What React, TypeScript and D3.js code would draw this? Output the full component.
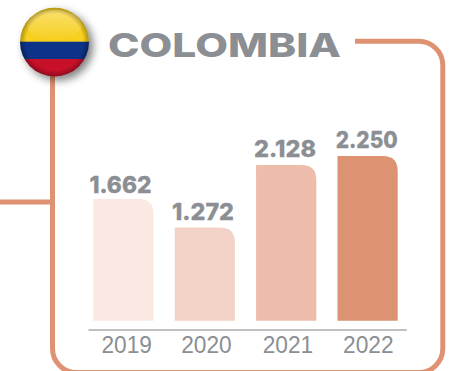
import React from "react";
import * as d3 from "d3";

const years = ["2019", "2020", "2021", "2022"];
const sales = [1662, 1272, 2128, 2250];
const salesLabels = ["1.662", "1.272", "2.128", "2.250"];
const barFills = ["#f9e9e2", "#f3d3c7", "#edbcaa", "#dd9271"];
const labelLeft = [89.5, 172, 254, 335.7];
const labelDy = [-6.4, -7.7, -8.3, -8];
const yearCenter = [126.7, 206.5, 288, 368.3];

const W = 450;
const H = 371;
const baseY = 320.7;
const frameColor = "#df9272";
const gray = "#8b8e92";

const x = d3.scaleBand<string>().domain(years).range([82.7, 408.3]).paddingInner(0.26).paddingOuter(0.13);
const y = d3.scaleLinear().domain([0, 2250]).range([baseY, 156]);

// Rectangle with only the top-right corner rounded.
function barPath(x0: number, y0: number, w: number, r: number) {
  const p = d3.path();
  p.moveTo(x0, baseY);
  p.lineTo(x0, y0);
  p.lineTo(x0 + w - r, y0);
  p.quadraticCurveTo(x0 + w, y0, x0 + w, y0 + r);
  p.lineTo(x0 + w, baseY);
  p.closePath();
  return p.toString();
}

function framePath() {
  const l = 52.5, t = 41.3, r = 442.8, b = 372.6, c = 24;
  const p = d3.path();
  p.moveTo(355, t);
  p.lineTo(r - c, t);
  p.arcTo(r, t, r, t + c, c);
  p.lineTo(r, b - c);
  p.arcTo(r, b, r - c, b, c);
  p.lineTo(l + c, b);
  p.arcTo(l, b, l, b - c, c);
  p.lineTo(l, 60);
  return p.toString();
}

export default function App() {
  const flagR = 34.5;
  const fx = 54.5, fy = 42;
  return (
    <svg width={W} height={H} viewBox={`0 0 ${W} ${H}`}
      style={{ position: "absolute", left: 0, top: 0, display: "block", background: "#fff" }}>
      <defs>
        <clipPath id="flagClip"><circle cx={fx} cy={fy} r={flagR} /></clipPath>
        <radialGradient id="shade" cx="50%" cy="50%" r="50%">
          <stop offset="82%" stopColor="#000" stopOpacity={0} />
          <stop offset="100%" stopColor="#000" stopOpacity={0.3} />
        </radialGradient>
        <linearGradient id="gloss" x1="0" y1="0" x2="0" y2="1">
          <stop offset="0%" stopColor="#fff" stopOpacity={0.35} />
          <stop offset="100%" stopColor="#fff" stopOpacity={0} />
        </linearGradient>
        <filter id="flagShadow" x="-30%" y="-30%" width="170%" height="170%">
          <feGaussianBlur stdDeviation="4" />
        </filter>
      </defs>

      <path d={framePath()} fill="none" stroke={frameColor} strokeWidth={5} />
      <line x1={0} x2={52} y1={202} y2={202} stroke={frameColor} strokeWidth={5} />

      {years.map((yr, i) => {
        const x0 = x(yr)!;
        const top = y(sales[i]);
        return (
          <g key={yr}>
            <path d={barPath(x0, top, x.bandwidth(), 15)} fill={barFills[i]} />
            <text x={labelLeft[i]} y={top + labelDy[i]}
              textLength={62} lengthAdjust="spacingAndGlyphs"
              fontFamily="Inter, sans-serif" fontWeight={800} fontSize={23}
              fill={gray} stroke={gray} strokeWidth={0.3}>
              {salesLabels[i]}
            </text>
            <text x={yearCenter[i]} y={352.5} textAnchor="middle"
              fontFamily="'Liberation Sans', sans-serif" fontSize={23}
              textLength={50.5} lengthAdjust="spacingAndGlyphs"
              fill={gray}>
              {yr}
            </text>
          </g>
        );
      })}

      <line x1={88.5} x2={406.7} y1={330} y2={330} stroke="#a9abae" strokeWidth={1.6} />

      <text x={108} y={56.5} fontFamily="Inter, sans-serif" fontWeight={800} fontSize={33}
        textLength={233} lengthAdjust="spacingAndGlyphs" fill={gray}>
        COLOMBIA
      </text>

      <circle cx={fx + 4} cy={fy + 4} r={flagR} fill="#000" opacity={0.5} filter="url(#flagShadow)" />
      <g clipPath="url(#flagClip)">
        <rect x={fx - flagR} y={fy - flagR} width={flagR * 2} height={flagR + 0} fill="#f7cf1e" />
        <rect x={fx - flagR} y={41.7} width={flagR * 2} height={17.3} fill="#0c3387" />
        <rect x={fx - flagR} y={59} width={flagR * 2} height={18} fill="#c9102a" />
        <ellipse cx={fx} cy={fy - 17} rx={flagR * 0.8} ry={15} fill="url(#gloss)" />
        <circle cx={fx} cy={fy} r={flagR} fill="url(#shade)" />
      </g>
    </svg>
  );
}
